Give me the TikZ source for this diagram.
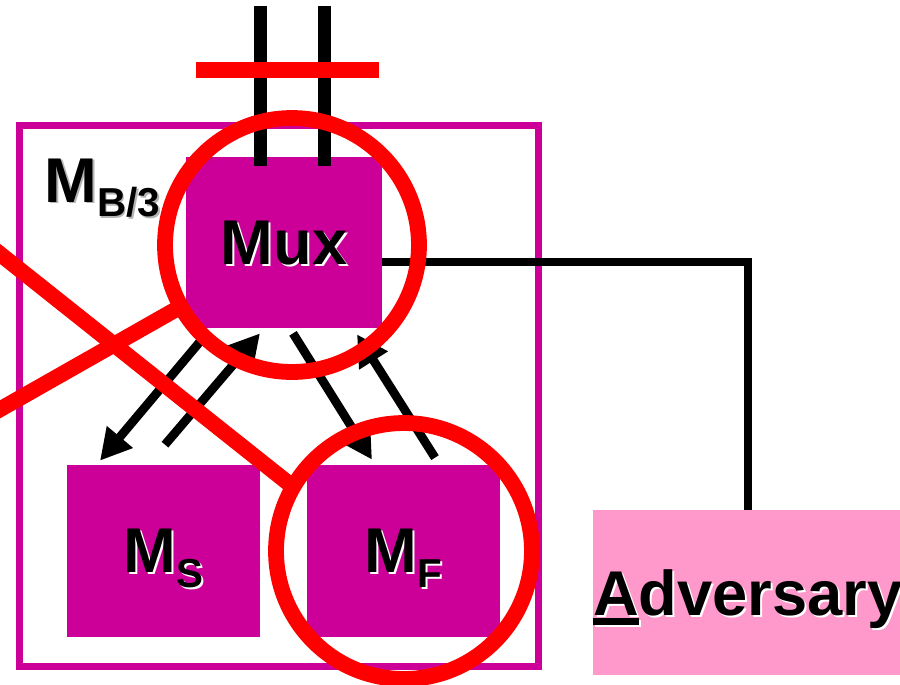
\documentclass[tikz,border=0pt]{standalone}
\usepackage{fontspec}
\setsansfont{Liberation Sans}
\usetikzlibrary{positioning,arrows.meta,calc}
\definecolor{magbox}{HTML}{CC0099}
\definecolor{advpink}{HTML}{FF99CC}
\definecolor{markred}{HTML}{FF0000}
\definecolor{shadowgray}{HTML}{B4B4B4}

\newcommand{\shadowed}[2]{\makebox[0pt][l]{\hspace{1.1pt}\raisebox{-1.1pt}{\color{#1}#2}}#2}
\newcommand{\lowsub}[1]{\raisebox{-8.5pt}{\fontsize{23}{26}\selectfont #1}}
\newcommand{\ulfirst}[1]{\setbox0\hbox{#1}\rlap{\rule[-5.7pt]{\wd0}{4pt}}#1}

\begin{document}
\begin{tikzpicture}[
    x=0.02cm, y=-0.02cm,
    >={Triangle[length=0.62cm,width=0.64cm]},
    every node/.style={font=\sffamily\bfseries\fontsize{36}{40}\selectfont},
    modbox/.style={
        fill=magbox,
        inner sep=0pt,
        minimum width=3.86cm,
        minimum height=3.44cm,
        text depth=0pt,
    },
    outerframe/.style={
        draw=magbox,
        line width=4pt,
        minimum width=10.38cm,
        minimum height=10.82cm,
    },
    advbox/.style={
        fill=advpink,
        inner sep=0pt,
        minimum width=6.08cm,
        minimum height=3.3cm,
        text depth=0pt,
    },
    wire/.style={line width=4pt,black},
    bus/.style={line width=7.4pt,black},
    flow/.style={->,line width=5pt,black},
    redring/.style={circle,draw=markred,line width=9pt,inner sep=0pt,outer sep=0pt},
    redline/.style={line width=9pt,markred},
]

\useasboundingbox (0,0) rectangle (900,684);
\clip (0,0) rectangle (900,684);

% === M_B/3 frame ===
\node[outerframe] (mbthree) at (279,396) {};
\node[anchor=base west,inner sep=0pt] (mblabel) at (44,202) {\shadowed{shadowgray}{M\lowsub{B/3}}};

% === Modules ===
\node[modbox,minimum width=3.92cm,minimum height=3.42cm] (mux) at (284,242.5) {\shadowed{white}{Mux}};
\node[modbox] (ms) at (163.5,551) {\shadowed{white}{M\lowsub{S}}};
\node[modbox] (mf) at (403.5,551) {\shadowed{white}{M\lowsub{F}}};

% === Adversary ===
\node[advbox] (adv) at (748,592.5) {\shadowed{white}{\ulfirst{A}dversary}};

% === Wires ===
\coordinate (inA) at (260,6);
\coordinate (inB) at (324.5,6);
\draw[bus] (inA) -- ([yshift=-0.18cm]inA |- mux.north);
\draw[bus] (inB) -- ([yshift=-0.18cm]inB |- mux.north);
\draw[wire] ([yshift=-0.39cm]mux.east) -| (adv.north);

% === Arrows ===
\draw[flow] ($(mux.south)+(-77,5)$) -- ($(ms.north)+(-63.5,-4)$);
\draw[flow] ($(ms.north)+(1.5,-20)$) -- ($(mux.south)+(-24,5)$);
\draw[flow] ($(mux.south)+(9,5)$) -- ($(mf.north)+(-31.5,-5)$);
\draw[flow] ($(mf.north)+(31.5,-7)$) -- ($(mux.south)+(73,6)$);

% === Red marks ===
\node[redring,minimum size=5.08cm] (muxring) at (292,245) {};
\node[redring,minimum size=5.12cm] (mfring) at (404,551) {};
\coordinate (cutL) at (196,70);
\coordinate (cutR) at (379,70);
\draw[redline] (cutL) -- (cutR);
\coordinate (xa) at (-10,246);
\coordinate (xb) at (-10,415);
\draw[redline] (xa) -- (mfring.150);
\draw[redline] (xb) -- (muxring.209);

\end{tikzpicture}
\end{document}
